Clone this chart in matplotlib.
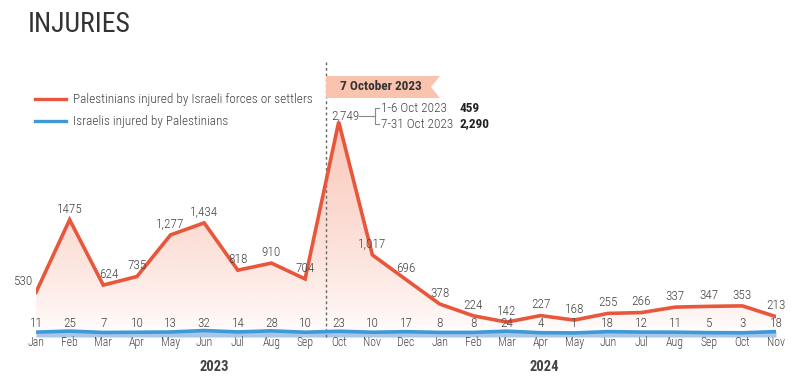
import matplotlib
matplotlib.use("Agg")
import matplotlib.pyplot as plt
import numpy as np
from matplotlib.patches import Polygon

months = ["Jan", "Feb", "Mar", "Apr", "May", "Jun", "Jul", "Aug", "Sep", "Oct", "Nov", "Dec",
          "Jan", "Feb", "Mar", "Apr", "May", "Jun", "Jul", "Aug", "Sep", "Oct", "Nov"]
years = ["2023", "2024"]
palestinians = [530, 1475, 624, 735, 1277, 1434, 818, 910, 704, 2749, 1017, 696,
                378, 224, 142, 227, 168, 255, 266, 337, 347, 353, 213]
pal_labels = ["530", "1475", "624", "735", "1,277", "1,434", "818", "910", "704", "", "1,017", "696",
              "378", "224", "142", "227", "168", "255", "266", "337", "347", "353", "213"]
israelis = [11, 25, 7, 10, 13, 32, 14, 28, 10, 23, 10, 17, 8, 8, 24, 4, 1, 18, 12, 11, 5, 3, 18]
split_labels = ["1-6 Oct 2023", "7-31 Oct 2023"]
split_values = ["459", "2,290"]
peak_label = "2,749"
event_label = "7 October 2023"
series_names = ["Palestinians injured by Israeli forces or settlers", "Israelis injured by Palestinians"]

plt.rcParams['font.family'] = ['Roboto Condensed', 'Liberation Sans Narrow', 'Roboto', 'DejaVu Sans']
RED = "#e8573c"
BLUE = "#3d9ad6"
TXT = "#444444"
LW = 300

W, H = 799, 387
fig = plt.figure(figsize=(W / 100, H / 100), dpi=100)

x0_px, x1_px = 36, 776
zero_px = 333.0
px_per_unit = 0.0768
top_px, bot_px = 60, 337
ax = fig.add_axes([x0_px / W, 1 - bot_px / H, (x1_px - x0_px) / W, (bot_px - top_px) / H])
ax.set_xlim(0, len(months) - 1)
ax.set_ylim(-(bot_px - zero_px) / px_per_unit, (zero_px - top_px) / px_per_unit)
ax.axis("off")

x = np.arange(len(months))
pal = np.array(palestinians)
isr = np.array(israelis)

ylo, yhi = ax.get_ylim()
g = np.linspace(0, 1, 256)
rgba = np.zeros((256, 1, 4))
rgba[..., 0] = 0.96
rgba[..., 1] = 0.52
rgba[..., 2] = 0.40
rgba[:, 0, 3] = np.clip(g, 0, 1) ** 0.7 * 0.45
img = ax.imshow(rgba, extent=(0, len(months) - 1, 0, pal.max()), origin="lower",
                aspect="auto", zorder=1)
verts = [(0, 0)] + list(zip(x, pal)) + [(len(months) - 1, 0)]
clip = Polygon(verts, closed=True, transform=ax.transData, facecolor="none", edgecolor="none")
ax.add_patch(clip)
img.set_clip_path(clip)

ax.plot(x, pal, color=RED, lw=2.6, zorder=4, solid_joinstyle="miter")

ax.fill_between(x, isr, ylo, color="#aac5ea", zorder=2, lw=0)
ax.plot(x, isr, color=BLUE, lw=2.6, zorder=5)

FS = 9.5
for i, (v, lab) in enumerate(zip(pal, pal_labels)):
    if not lab:
        continue
    dx = -9 if i == 0 else (4 if i == 2 else 0)
    ax.annotate(lab, (i, v), xytext=(dx, 3), textcoords="offset points", ha="center",
                va="bottom", fontsize=FS, color=TXT, fontweight=LW, zorder=6)
for i, v in enumerate(isr):
    ax.annotate(str(v), (i, 0), xytext=(0, 2.5), textcoords="offset points", ha="center",
                va="bottom", fontsize=FS, color=TXT, fontweight=LW, zorder=6)
for i, m in enumerate(months):
    ax.annotate(m, (i, 0), xytext=(0, -2.5), textcoords="offset points", ha="center",
                va="top", fontsize=8.5, color=TXT, fontweight=LW, annotation_clip=False)

ax.annotate(years[0], (5.3, 0), xytext=(0, -19.5), textcoords="offset points", ha="center",
            va="top", fontsize=10.5, fontweight="bold", color="#444444", annotation_clip=False)
ax.annotate(years[1], (15.1, 0), xytext=(0, -19.5), textcoords="offset points", ha="center",
            va="top", fontsize=10.5, fontweight="bold", color="#444444", annotation_clip=False)

ev_x = 8.62
ax.plot([ev_x, ev_x], [ylo, yhi], color="#666666", lw=1, ls=(0, (2, 2)), zorder=3, clip_on=False)


def fx(px):
    return px / W


def fy(py):
    return 1 - py / H


bx0, bx1, by0, by1, notch = 326, 440, 76, 98, 9
banner = Polygon([(fx(bx0), fy(by0)), (fx(bx1), fy(by0)), (fx(bx1 - notch), fy((by0 + by1) / 2)),
                  (fx(bx1), fy(by1)), (fx(bx0), fy(by1))], closed=True,
                 transform=fig.transFigure, facecolor="#f9c3ae", edgecolor="none", zorder=2)
fig.patches.append(banner)
fig.text(fx(340), fy(87), event_label, fontsize=9.5, fontweight="bold", color="#333333",
         va="center", ha="left")

fig.text(fx(331), fy(116), peak_label, fontsize=FS, color=TXT, fontweight=LW, va="center", ha="left")
lc = "#888888"
fig.lines.append(plt.Line2D([fx(359), fx(375)], [fy(116), fy(116)], transform=fig.transFigure,
                            color=lc, lw=0.8))
fig.lines.append(plt.Line2D([fx(379), fx(375), fx(375), fx(379)],
                            [fy(108), fy(108), fy(124), fy(124)], transform=fig.transFigure,
                            color=lc, lw=0.8))
fig.text(fx(381), fy(108), split_labels[0], fontsize=FS, color=TXT, fontweight=LW, va="center", ha="left")
fig.text(fx(381), fy(124), split_labels[1], fontsize=FS, color=TXT, fontweight=LW, va="center", ha="left")
fig.text(fx(460), fy(108), split_values[0], fontsize=FS, color="#222222", fontweight="bold",
         va="center", ha="left")
fig.text(fx(460), fy(124), split_values[1], fontsize=FS, color="#222222", fontweight="bold",
         va="center", ha="left")

for yy, col, name in [(99, RED, series_names[0]), (121, BLUE, series_names[1])]:
    fig.lines.append(plt.Line2D([fx(35), fx(66)], [fy(yy), fy(yy)], transform=fig.transFigure,
                                color=col, lw=2.4))
    fig.text(fx(73), fy(yy), name, fontsize=9.5, color="#444444", fontweight=LW,
             va="center", ha="left")

fig.text(fx(28), fy(25), "INJURIES", fontsize=20, color="#333333", fontweight="normal",
         va="center", ha="left")

fig.savefig("out.png", dpi=100, facecolor="white")
